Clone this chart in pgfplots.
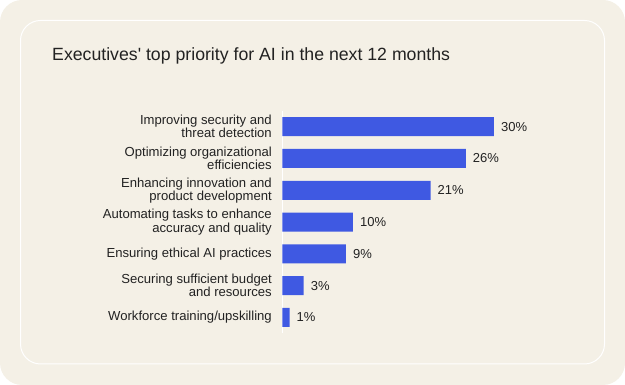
\documentclass[border=0pt]{standalone}
\usepackage{fontspec}
\setmainfont{Liberation Sans}
\usepackage{pgfplots}
\pgfplotsset{compat=1.18}
\definecolor{bg}{HTML}{F4F0E6}
\definecolor{barblue}{HTML}{3F59E2}
\definecolor{txt}{HTML}{222222}
\begin{document}
\begin{tikzpicture}
\fill[bg, rounded corners=22pt] (0pt,0pt) rectangle (625pt,385pt);
\draw[white, line width=1pt, rounded corners=20pt] (20.5pt,21pt) rectangle (604.5pt,364.5pt);
\node[anchor=base west, inner sep=0pt, text=txt, font=\fontsize{17.7}{17.7}\selectfont] at (52pt,324pt) {Executives\textquotesingle{} top priority for AI in the next 12 months};
\begin{axis}[
  at={(282.5pt,51.6pt)}, anchor=south west,
  scale only axis, width=211.5pt, height=222.6pt,
  xbar, bar width=19pt,
  xmin=0, xmax=30, ymin=-0.5, ymax=6.5,
  hide x axis,
  axis y line=left,
  y axis line style={white, line width=1pt, -},
  ytick={0,...,6},
  yticklabels={{Workforce training/upskilling},
    {Securing sufficient budget\\and resources},
    {Ensuring ethical AI practices},
    {Automating tasks to enhance\\accuracy and quality},
    {Enhancing innovation and\\product development},
    {Optimizing organizational\\efficiencies},
    {Improving security and\\threat detection}},
  yticklabel style={align=right, text=txt, font=\fontsize{13.1}{11.5}\selectfont, inner sep=0pt, xshift=-10.5pt},
  major tick length=0pt,
  ytick style={draw=none},
  clip=false,
  point meta=x,
  /pgf/number format/assume math mode=true,
  nodes near coords={\pgfmathprintnumber{\pgfplotspointmeta}\%},
  nodes near coords align=horizontal,
  every node near coord/.append style={text=txt, font=\fontsize{13}{13}\selectfont, inner sep=0pt, xshift=7pt},
]
\addplot[fill=barblue, draw=none] coordinates {(1,0) (3,1) (9,2) (10,3) (21,4) (26,5) (30,6)};
\end{axis}
\end{tikzpicture}
\end{document}
